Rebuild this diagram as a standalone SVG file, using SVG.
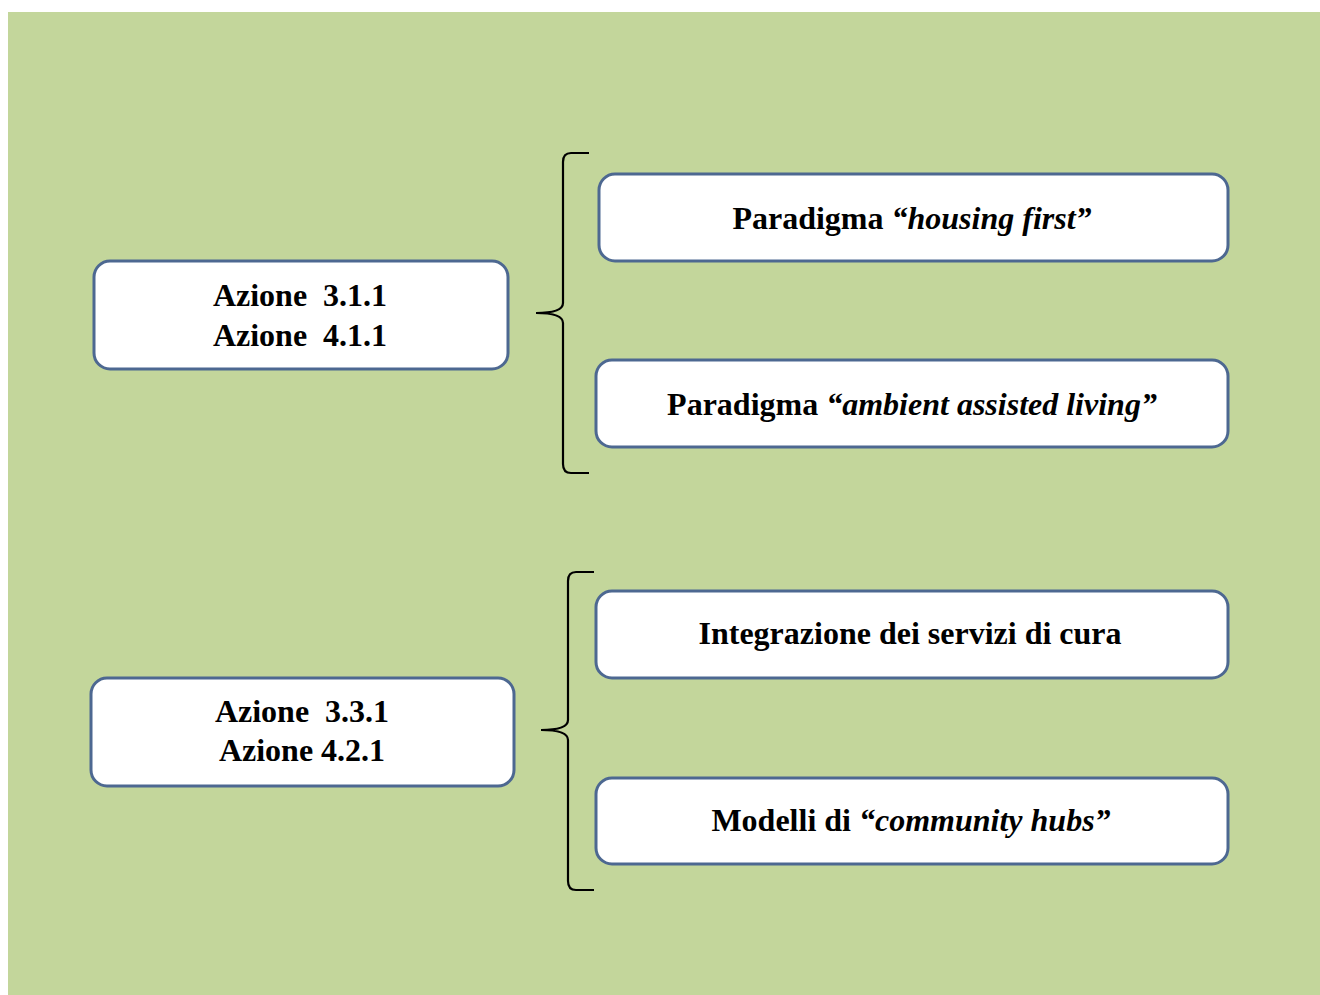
<svg xmlns="http://www.w3.org/2000/svg" width="1320" height="995" viewBox="0 0 1320 995">
<style>
.box{fill:#ffffff;stroke:#4d6891;stroke-width:3}
.t{font-family:"Liberation Serif","Times New Roman",serif;font-weight:bold;fill:#000;text-anchor:middle;white-space:pre}
.l{font-size:32px}
.r{font-size:32px}
.i{font-style:italic}
.br{fill:none;stroke:#000;stroke-width:2.2}
</style>
<rect x="0" y="0" width="1320" height="995" fill="#ffffff"/>
<rect x="8" y="12" width="1312" height="983" fill="#c3d69b"/>
<g id="connectors">
<path class="br" d="M589,153 L571,153 Q563,153 563,162 L563,303 Q563,313 536,313 Q563,313 563,323 L563,464 Q563,473 571,473 L589,473"/>
<path class="br" d="M594,572 L576,572 Q568,572 568,581 L568,720 Q568,730 541,730 Q568,730 568,740 L568,881 Q568,890 576,890 L594,890"/>
</g>
<g id="n1">
<rect class="box" x="94" y="261" width="414" height="108" rx="16"/>
<text class="t l" x="300" y="306" xml:space="preserve">Azione  3.1.1</text>
<text class="t l" x="300" y="346" xml:space="preserve">Azione  4.1.1</text>
</g>
<g id="n2">
<rect class="box" x="599" y="174" width="629" height="87" rx="16"/>
<text class="t r" x="912" y="229">Paradigma <tspan class="i">“housing first”</tspan></text>
</g>
<g id="n3">
<rect class="box" x="596" y="360" width="632" height="87" rx="16"/>
<text class="t r" x="912" y="415">Paradigma <tspan class="i">“ambient assisted living”</tspan></text>
</g>
<g id="n4">
<rect class="box" x="91" y="678" width="423" height="108" rx="16"/>
<text class="t l" x="302" y="722" xml:space="preserve">Azione  3.3.1</text>
<text class="t l" x="302" y="761">Azione 4.2.1</text>
</g>
<g id="n5">
<rect class="box" x="596" y="591" width="632" height="87" rx="16"/>
<text class="t r" x="910" y="644">Integrazione dei servizi di cura</text>
</g>
<g id="n6">
<rect class="box" x="596" y="778" width="632" height="86" rx="16"/>
<text class="t r" x="911" y="831">Modelli di <tspan class="i">“community hubs”</tspan></text>
</g>
</svg>
